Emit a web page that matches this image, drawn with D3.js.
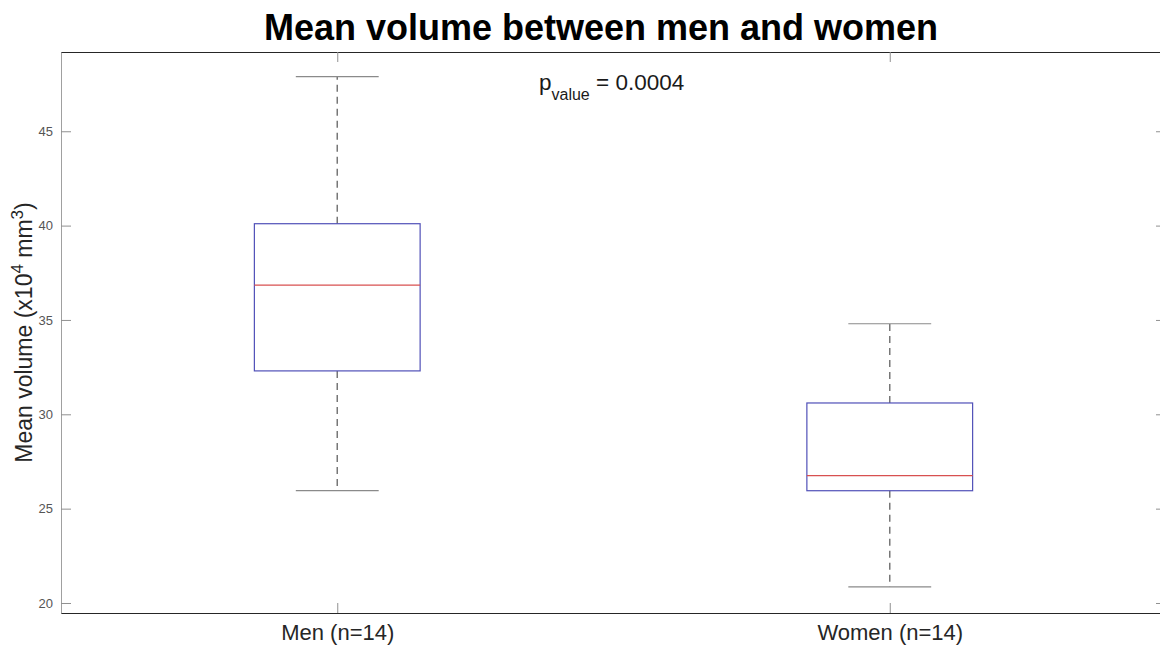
<!DOCTYPE html>
<html>
<head>
<meta charset="utf-8">
<script src="https://cdn.jsdelivr.net/npm/d3@7"></script>
<style>
    body { margin: 0; background: #fff; overflow: hidden; }
    svg { display: block; font-family: "Liberation Sans", Arial, sans-serif; }
</style>
</head>
<body>
<div id="chart"></div>
<script>
const categories = ["Men (n=14)", "Women (n=14)"];
const whiskerLow = [25.95, 20.85];
const q1 = [32.3, 25.95];
const medians = [36.85, 26.75];
const q3 = [40.1, 30.6];
const whiskerHigh = [47.9, 34.8];
const yTicks = [20, 25, 30, 35, 40, 45];

const width = 1160, height = 647;
const margin = { top: 52, right: -6, bottom: 34, left: 61 };

const svg = d3.select("#chart").append("svg")
    .attr("width", width)
    .attr("height", height);

const x = d3.scaleLinear()
    .domain([0.5, 2.5])
    .range([margin.left, width - margin.right]);

const y = d3.scaleLinear()
    .domain([19.47, 49.2])
    .range([height - margin.bottom, margin.top]);

const boxW = 0.3;

// axes
const yAxis = svg.append("g")
    .attr("transform", `translate(${margin.left},0)`)
    .call(d3.axisLeft(y).tickValues(yTicks).tickSize(-10).tickPadding(8));
yAxis.select(".domain").attr("stroke", "#a0a0a0");
yAxis.selectAll(".tick line").attr("stroke", "#909090");
yAxis.selectAll(".tick text").attr("fill", "#555").style("font-size", "13px");

const yRight = svg.append("g")
    .attr("transform", `translate(${width - margin.right},0)`)
    .call(d3.axisRight(y).tickValues(yTicks).tickSize(-10).tickSizeOuter(0).tickFormat(""));
yRight.select(".domain").attr("stroke", "#333");
yRight.selectAll(".tick line").attr("stroke", "#909090");

const xAxis = svg.append("g")
    .attr("transform", `translate(0,${height - margin.bottom})`)
    .call(d3.axisBottom(x).tickValues([1, 2]).tickSize(-10).tickSizeOuter(0).tickPadding(11)
        .tickFormat((d, i) => categories[i]));
xAxis.select(".domain").attr("stroke", "#262626");
xAxis.selectAll(".tick line").attr("stroke", "#909090");
xAxis.selectAll(".tick text").attr("fill", "#262626").style("font-size", "22px");

const xTop = svg.append("g")
    .attr("transform", `translate(0,${margin.top})`)
    .call(d3.axisTop(x).tickValues([1, 2]).tickSize(-10).tickSizeOuter(0).tickFormat(""));
xTop.select(".domain").attr("stroke", "#262626");
xTop.selectAll(".tick line").attr("stroke", "#909090");

// boxes
const idx = d3.range(categories.length);
const g = svg.append("g");

g.selectAll(".whisker-up")
    .data(idx).enter().append("line")
    .attr("x1", i => x(i + 1)).attr("x2", i => x(i + 1))
    .attr("y1", i => y(q3[i])).attr("y2", i => y(whiskerHigh[i]))
    .attr("stroke", "#777").attr("stroke-width", 1.5).attr("stroke-dasharray", "7,5");

g.selectAll(".whisker-down")
    .data(idx).enter().append("line")
    .attr("x1", i => x(i + 1)).attr("x2", i => x(i + 1))
    .attr("y1", i => y(q1[i])).attr("y2", i => y(whiskerLow[i]))
    .attr("stroke", "#777").attr("stroke-width", 1.5).attr("stroke-dasharray", "7,5");

[whiskerHigh, whiskerLow].forEach(vals => {
    g.selectAll(null)
        .data(idx).enter().append("line")
        .attr("x1", i => x(i + 1 - boxW / 4)).attr("x2", i => x(i + 1 + boxW / 4))
        .attr("y1", i => y(vals[i])).attr("y2", i => y(vals[i]))
        .attr("stroke", "#8a8a8a").attr("stroke-width", 1.2);
});

g.selectAll(".box")
    .data(idx).enter().append("rect")
    .attr("x", i => x(i + 1 - boxW / 2))
    .attr("width", i => x(i + 1 + boxW / 2) - x(i + 1 - boxW / 2))
    .attr("y", i => y(q3[i]))
    .attr("height", i => y(q1[i]) - y(q3[i]))
    .attr("fill", "none")
    .attr("stroke", "#5050b8").attr("stroke-width", 1.2);

g.selectAll(".median")
    .data(idx).enter().append("line")
    .attr("x1", i => x(i + 1 - boxW / 2)).attr("x2", i => x(i + 1 + boxW / 2))
    .attr("y1", i => y(medians[i])).attr("y2", i => y(medians[i]))
    .attr("stroke", "#d85050").attr("stroke-width", 1.2);

// p value annotation
const pText = svg.append("text")
    .attr("x", 539).attr("y", 90)
    .attr("fill", "#1a1a1a")
    .style("font-size", "22.5px");
pText.append("tspan").text("p");
pText.append("tspan").attr("dy", 10).style("font-size", "16px").text("value");
pText.append("tspan").attr("dy", -10).text(" = 0.0004");

// title
svg.append("text")
    .attr("x", 601).attr("y", 40)
    .attr("text-anchor", "middle")
    .style("font-size", "36px").style("font-weight", "bold")
    .attr("fill", "#000")
    .text("Mean volume between men and women");

// y label
const yLab = svg.append("text")
    .attr("transform", `translate(32,${(margin.top + height - margin.bottom) / 2}) rotate(-90)`)
    .attr("text-anchor", "middle")
    .attr("fill", "#262626")
    .style("font-size", "23px");
yLab.append("tspan").text("Mean volume (x10");
yLab.append("tspan").attr("dy", -9).style("font-size", "17px").text("4");
yLab.append("tspan").attr("dy", 9).text(" mm");
yLab.append("tspan").attr("dy", -9).style("font-size", "17px").text("3");
yLab.append("tspan").attr("dy", 9).text(")");
</script>
</body>
</html>
